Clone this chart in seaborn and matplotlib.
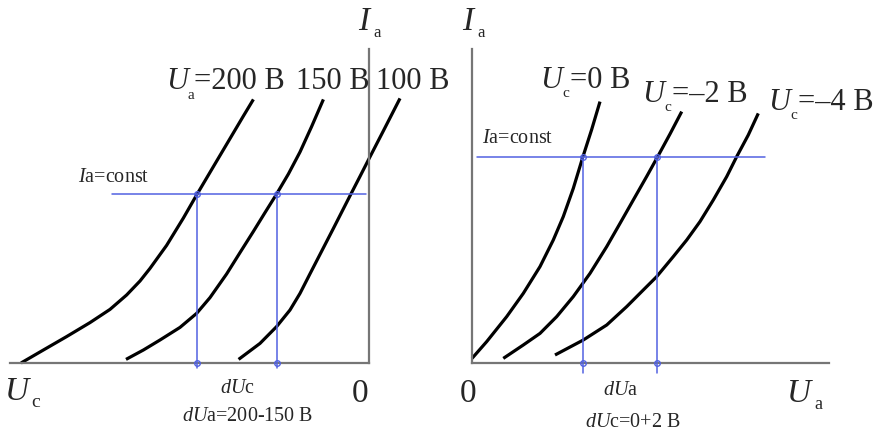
import numpy as np
import pandas as pd
import matplotlib
matplotlib.use("Agg")
import matplotlib.pyplot as plt
import seaborn as sns

# Grid characteristics Ia(Uc) for three anode voltages (Uc in V, Ia in mA)
grid_labels = ["200 B", "150 B", "100 B"]
grid_uc_200 = [-17.4, -16.28, -15.12, -13.95, -12.95, -12.12, -11.45, -10.95,
               -10.12, -9.28, -8.62, -7.78, -6.95, -6.28, -5.78]
grid_ia_200 = [0.0, 0.65, 1.32, 2.02, 2.68, 3.40, 4.10, 4.73,
               5.88, 7.25, 8.40, 9.82, 11.22, 12.35, 13.18]
grid_uc_150 = [-12.15, -11.28, -10.45, -9.45, -8.62, -7.95, -7.12, -6.45,
               -5.78, -5.2, -4.65, -4.03, -3.45, -2.87, -2.28]
grid_ia_150 = [0.18, 0.65, 1.15, 1.78, 2.48, 3.27, 4.45, 5.52,
               6.58, 7.52, 8.40, 9.45, 10.55, 11.82, 13.18]
grid_uc_100 = [-6.52, -5.45, -4.62, -3.95, -3.45, -2.95, -2.45, -1.78,
               -0.95, -0.45, 0.05, 0.72, 1.55]
grid_ia_100 = [0.18, 0.98, 1.82, 2.65, 3.48, 4.46, 5.43, 6.73,
               8.36, 9.33, 10.31, 11.61, 13.23]

# Anode characteristics Ia(Ua) for three grid voltages (Ua in V, Ia in mA)
anode_labels = ["0 B", "\u20132 B", "\u20134 B"]
anode_ua_0 = [0.0, 10.3, 24.3, 35.9, 47.6, 56.9, 63.9, 70.9, 77.5, 83.8, 89.6]
anode_ia_0 = [0.23, 1.07, 2.32, 3.48, 4.82, 6.15, 7.32, 8.73, 10.28, 11.68, 13.07]
anode_ua_2 = [21.9, 35.9, 47.6, 59.3, 70.9, 82.6, 94.3, 103.6, 112.9, 122.3,
              130.0, 138.6, 146.8]
anode_ia_2 = [0.23, 0.9, 1.48, 2.32, 3.32, 4.48, 5.82, 6.98, 8.15, 9.33,
              10.32, 11.45, 12.57]
anode_ua_4 = [58.1, 77.9, 94.3, 108.3, 119.9, 129.3, 140.9, 150.3, 159.6,
              168.9, 178.3, 185.3, 193.4, 200.4]
anode_ia_4 = [0.4, 1.15, 1.9, 2.82, 3.65, 4.32, 5.32, 6.15, 7.07,
              8.15, 9.32, 10.32, 11.4, 12.48]

# Constant anode current used for the construction lines
ia_const_grid = 8.45
ia_const_anode = 10.3

W, H = 881, 432
BLUE = "#5262e2"
AXIS = "#767676"

sns.set_style("white")
plt.rcParams["font.family"] = ["Liberation Serif", "DejaVu Serif"]
plt.rcParams["mathtext.fontset"] = "custom"
plt.rcParams["mathtext.rm"] = "Liberation Serif"
plt.rcParams["mathtext.it"] = "Liberation Serif:italic"

fig = plt.figure(figsize=(W / 100, H / 100), dpi=100)
fig.patch.set_facecolor("white")


def box(x0, y0, x1, y1):
    return [x0 / W, 1 - y1 / H, (x1 - x0) / W, (y1 - y0) / H]


axL = fig.add_axes(box(10, 49, 369, 363))
axR = fig.add_axes(box(472, 49, 829, 363))

grid_df = pd.concat([
    pd.DataFrame({"Uc": u, "Ia": i, "Ua": lab})
    for u, i, lab in zip([grid_uc_200, grid_uc_150, grid_uc_100],
                         [grid_ia_200, grid_ia_150, grid_ia_100], grid_labels)
], ignore_index=True)
anode_df = pd.concat([
    pd.DataFrame({"Ua": u, "Ia": i, "Uc": lab})
    for u, i, lab in zip([anode_ua_0, anode_ua_2, anode_ua_4],
                         [anode_ia_0, anode_ia_2, anode_ia_4], anode_labels)
], ignore_index=True)

sns.lineplot(data=grid_df, x="Uc", y="Ia", units="Ua", estimator=None,
             sort=False, color="black", lw=2.3, ax=axL)
sns.lineplot(data=anode_df, x="Ua", y="Ia", units="Uc", estimator=None,
             sort=False, color="black", lw=2.3, ax=axR)

axL.set_xlim(-17.95, 0)
axL.set_ylim(0, 15.7)
axR.set_xlim(0, 249.9)
axR.set_ylim(0, 15.7)

for ax in (axL, axR):
    for ln in ax.lines:
        ln.set_clip_on(False)
        ln.set_solid_capstyle("butt")
        ln.set_solid_joinstyle("round")
    ax.set_xticks([])
    ax.set_yticks([])
    ax.set_xlabel("")
    ax.set_ylabel("")
    ax.set_facecolor("none")
    for s in ax.spines.values():
        s.set_color(AXIS)
        s.set_linewidth(1.6)

axL.spines["left"].set_visible(False)
axL.spines["top"].set_visible(False)
axR.spines["right"].set_visible(False)
axR.spines["top"].set_visible(False)

# Construction lines at constant anode current
mk = dict(marker="o", ms=4, mfc="none", mec=BLUE, mew=1.0, ls="none",
          clip_on=False, zorder=4)
axL.plot([-12.85, -0.15], [ia_const_grid] * 2, color=BLUE, lw=1.1,
         clip_on=False, zorder=3)
for u, i in [(grid_uc_200, grid_ia_200), (grid_uc_150, grid_ia_150)]:
    x = np.interp(ia_const_grid, i, u)
    axL.plot([x, x], [-0.25, ia_const_grid], color=BLUE, lw=1.1,
             clip_on=False, zorder=3)
    axL.plot([x, x], [0, ia_const_grid], **mk)

axR.plot([3.5, 205.1], [ia_const_anode] * 2, color=BLUE, lw=1.1,
         clip_on=False, zorder=3)
for u, i in [(anode_ua_0, anode_ia_0), (anode_ua_2, anode_ia_2)]:
    x = np.interp(ia_const_anode, i, u)
    axR.plot([x, x], [-0.5, ia_const_anode], color=BLUE, lw=1.1,
             clip_on=False, zorder=3)
    axR.plot([x, x], [0, ia_const_anode], **mk)


def put(x, y, s, size, **kw):
    fig.text(x / W, 1 - y / H, s, fontsize=size, ha="left", va="baseline", **kw)


def symbol(x, y, main, sub, size, sub_size, sub_dx, sub_dy, rest="", rest_dx=0):
    put(x, y, main, size, style="italic")
    put(x + sub_dx, y + sub_dy, sub, sub_size)
    if rest:
        put(x + rest_dx, y, rest, size)


BIG = 22
AX = 24
SMALL = 14.5

# Left panel texts
symbol(358, 30, "I", "a", AX, 12, 15, 7)
symbol(166, 89, "U", "a", BIG, 11, 21, 10, "=200 B", 28)
put(296, 89, "150 B", BIG)
put(376, 89, "100 B", BIG)
put(78, 182, r"$I$a=const", SMALL)
symbol(5, 400, "U", "c", AX, 14, 26, 7)
put(352, 402, "0", AX)
put(220, 393, r"$dU$c", SMALL)
put(182, 421, r"$dU$a=200-150 B", SMALL)

# Right panel texts
symbol(462, 30, "I", "a", AX, 12, 15, 7)
symbol(540, 88, "U", "c", BIG, 11, 22, 9, "=0 B", 30)
symbol(642, 102, "U", "c", BIG, 11, 22, 9, "=\u20132 B", 30)
symbol(768, 110, "U", "c", BIG, 11, 22, 9, "=\u20134 B", 30)
put(482, 143, r"$I$a=const", SMALL)
put(460, 402, "0", AX)
put(603, 395, r"$dU$a", SMALL)
put(585, 427, r"$dU$c=0+2 B", SMALL)
symbol(787, 402, "U", "a", AX, 13, 27, 7)

fig.savefig("out.png", dpi=100, facecolor="white")
